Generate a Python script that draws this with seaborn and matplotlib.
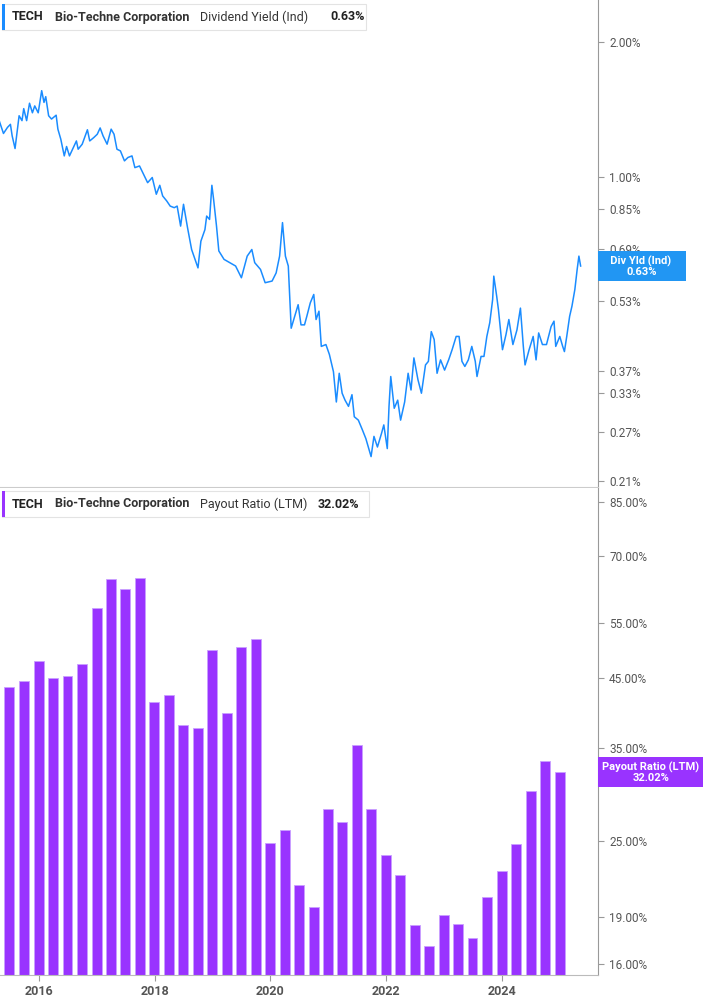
import numpy as np
import pandas as pd
import matplotlib
matplotlib.use("Agg")
import matplotlib.pyplot as plt
import seaborn as sns
from matplotlib.ticker import FixedLocator, NullLocator, NullFormatter

plt.rcParams["font.family"] = "Roboto"

# dividend yield (%), x as decimal year
yield_years = [2015.32, 2015.39, 2015.46, 2015.51, 2015.54, 2015.59, 2015.66, 2015.71, 2015.74, 2015.79,
               2015.84, 2015.89, 2015.93, 2015.99, 2016.05, 2016.09, 2016.12, 2016.17, 2016.22, 2016.30,
               2016.33, 2016.38, 2016.44, 2016.48, 2016.53, 2016.65, 2016.68, 2016.75, 2016.84, 2016.88,
               2016.95, 2017.01, 2017.06, 2017.11, 2017.18, 2017.25, 2017.30, 2017.35, 2017.41, 2017.48,
               2017.54, 2017.61, 2017.66, 2017.74, 2017.81, 2017.88, 2017.96, 2018.03, 2018.09, 2018.14,
               2018.21, 2018.27, 2018.34, 2018.39, 2018.45, 2018.50, 2018.57, 2018.64, 2018.70, 2018.75,
               2018.80, 2018.87, 2018.90, 2018.95, 2018.99, 2019.02, 2019.07, 2019.11, 2019.20, 2019.30,
               2019.40, 2019.50, 2019.60, 2019.68, 2019.73, 2019.83, 2019.91, 2020.03, 2020.10, 2020.16,
               2020.21, 2020.26, 2020.31, 2020.36, 2020.43, 2020.48, 2020.53, 2020.59, 2020.63, 2020.69,
               2020.75, 2020.79, 2020.84, 2020.88, 2020.96, 2021.02, 2021.09, 2021.14, 2021.19, 2021.24,
               2021.29, 2021.35, 2021.41, 2021.45, 2021.52, 2021.59, 2021.65, 2021.70, 2021.74, 2021.79,
               2021.85, 2021.92, 2021.96, 2022.02, 2022.05, 2022.08, 2022.14, 2022.20, 2022.25, 2022.32,
               2022.38, 2022.43, 2022.48, 2022.55, 2022.61, 2022.68, 2022.73, 2022.78, 2022.83, 2022.88,
               2022.94, 2023.01, 2023.08, 2023.14, 2023.21, 2023.26, 2023.31, 2023.36, 2023.42, 2023.48,
               2023.54, 2023.57, 2023.64, 2023.69, 2023.74, 2023.79, 2023.84, 2023.86, 2023.91, 2023.94,
               2024.01, 2024.07, 2024.12, 2024.19, 2024.26, 2024.32, 2024.37, 2024.40, 2024.47, 2024.54,
               2024.59, 2024.635, 2024.70, 2024.77, 2024.85, 2024.90, 2024.93, 2025.00, 2025.05, 2025.08,
               2025.12, 2025.17, 2025.21, 2025.26, 2025.30, 2025.33, 2025.36]
yield_vals = [1.33, 1.25, 1.29, 1.31, 1.235, 1.157, 1.369, 1.335, 1.42, 1.335,
              1.46, 1.39, 1.44, 1.39, 1.557, 1.466, 1.51, 1.369, 1.346, 1.373,
              1.278, 1.214, 1.114, 1.169, 1.114, 1.203, 1.153, 1.183, 1.274, 1.203,
              1.224, 1.245, 1.286, 1.235, 1.183, 1.278, 1.245, 1.153, 1.143, 1.086,
              1.105, 1.114, 1.049, 1.058, 1.014, 0.971, 0.997, 0.915, 0.958, 0.907,
              0.884, 0.861, 0.854, 0.861, 0.777, 0.869, 0.770, 0.689, 0.655, 0.627,
              0.719, 0.763, 0.818, 0.804, 0.958, 0.891, 0.777, 0.684, 0.655, 0.644,
              0.633, 0.596, 0.666, 0.689, 0.644, 0.622, 0.581, 0.586, 0.611, 0.666,
              0.791, 0.666, 0.633, 0.460, 0.494, 0.519, 0.468, 0.468, 0.489, 0.524,
              0.547, 0.481, 0.502, 0.419, 0.423, 0.402, 0.368, 0.315, 0.365, 0.3295,
              0.318, 0.308, 0.327, 0.292, 0.287, 0.273, 0.261, 0.248, 0.238, 0.264,
              0.250, 0.268, 0.280, 0.248, 0.308, 0.359, 0.305, 0.318, 0.287, 0.315,
              0.365, 0.335, 0.395, 0.353, 0.3295, 0.381, 0.388, 0.452, 0.434, 0.365,
              0.391, 0.371, 0.391, 0.412, 0.441, 0.441, 0.388, 0.378, 0.391, 0.419,
              0.388, 0.359, 0.398, 0.398, 0.441, 0.473, 0.533, 0.601, 0.542, 0.506,
              0.412, 0.445, 0.481, 0.423, 0.456, 0.510, 0.419, 0.381, 0.412, 0.441,
              0.391, 0.449, 0.423, 0.423, 0.464, 0.477, 0.419, 0.441, 0.419, 0.408,
              0.441, 0.489, 0.515, 0.561, 0.622, 0.666, 0.633]

# payout ratio (%), quarterly
payout_quarters = pd.period_range("2015Q2", "2024Q4", freq="Q")
payout_vals = [43.6, 44.5, 47.8, 45.1, 45.4, 47.3, 57.9, 64.3, 62.1, 64.7,
               41.3, 42.3, 38.0, 37.6, 49.8, 39.7, 50.3, 51.9, 24.8, 26.0,
               21.3, 19.7, 28.0, 26.7, 35.3, 28.0, 23.7, 22.1, 18.4, 17.1,
               19.1, 18.5, 17.6, 20.4, 22.4, 24.7, 29.9, 33.4, 32.0]

top_ticks = [2.00, 1.00, 0.85, 0.69, 0.53, 0.37, 0.33, 0.27, 0.21]
bot_ticks = [85, 70, 55, 45, 35, 25, 19, 16]
year_ticks = [2016, 2018, 2020, 2022, 2024]

BLUE = "#1a8cff"
PURPLE = "#9933ff"
GRID = "#999999"
TXT = "#555555"

W, H = 717, 1005
fig = plt.figure(figsize=(W / 100, H / 100), dpi=100)
ax1 = fig.add_axes([0, 1 - 487 / H, 598 / W, 487 / H])
ax2 = fig.add_axes([0, 1 - 975 / H, 598 / W, 487 / H])

xlim = (2015.33, 2025.66)

# top panel
df_y = pd.DataFrame({"year": yield_years, "yield": yield_vals})
sns.lineplot(data=df_y, x="year", y="yield", ax=ax1, color=BLUE, linewidth=1.1)
ax1.set_yscale("log")
ax1.set_ylim(0.2036, 2.48)
ax1.set_xlim(*xlim)

# bottom panel
q_years = [p.end_time.year + (p.end_time.dayofyear - 1) / 365.25 for p in payout_quarters]
df_p = pd.DataFrame({"year": q_years, "payout": payout_vals})
ax2.set_yscale("log")
sns.barplot(data=df_p, x="year", y="payout", ax=ax2, native_scale=True,
            width=0.7, color=PURPLE, saturation=1, edgecolor="#c9a0ff", linewidth=0.6)
ax2.set_ylim(15.38, 89.5)
ax2.set_xlim(*xlim)

for ax, ticks in ((ax1, top_ticks), (ax2, bot_ticks)):
    ax.yaxis.tick_right()
    ax.yaxis.set_major_locator(FixedLocator(ticks))
    ax.yaxis.set_minor_locator(NullLocator())
    ax.yaxis.set_minor_formatter(NullFormatter())
    ax.set_yticklabels([f"{t:.2f}%" for t in ticks])
    ax.tick_params(axis="y", colors=GRID, labelcolor=TXT, labelsize=8.5, length=4, pad=4)
    for s in ("top", "left"):
        ax.spines[s].set_visible(False)
    ax.spines["right"].set_color(GRID)
    ax.spines["bottom"].set_color("#bbbbbb")
    ax.set_xlabel("")
    ax.set_ylabel("")
    ax.set_facecolor("white")

ax1.set_xticks([])
ax1.spines["bottom"].set_color("#cccccc")
ax2.set_xticks(year_ticks)
ax2.set_xticklabels([str(y) for y in year_ticks])
ax2.tick_params(axis="x", colors=GRID, labelcolor=TXT, labelsize=9, length=4)
for lab in ax2.get_xticklabels():
    lab.set_fontweight("bold")

# value tags on right axis
def tag(ax, val, text, color):
    ax.annotate(text, xy=(1, val), xycoords=("axes fraction", "data"),
                xytext=(3, 0), textcoords="offset points", ha="left", va="center",
                fontsize=8, color="white", fontweight="bold", linespacing=1.0,
                multialignment="center",
                bbox=dict(boxstyle="square,pad=0.35", fc=color, ec="none"),
                annotation_clip=False)

tag(ax1, yield_vals[-1], "   Div Yld (Ind)    \n0.63%", "#2196f3")
tag(ax2, payout_vals[-1], "Payout Ratio (LTM)\n32.02%", PURPLE)

# header boxes
def header(y, label, value, color, width):
    fig.patches.append(plt.Rectangle((2 / W, 1 - (y + 13) / H), width / W, 26 / H,
                                     transform=fig.transFigure, fc="white", ec="#e3e3e3", lw=0.8))
    fig.patches.append(plt.Rectangle((2 / W, 1 - (y + 13) / H), 3 / W, 26 / H,
                                     transform=fig.transFigure, fc=color, ec="none"))
    fig.text(12 / W, 1 - y / H, "TECH", fontsize=9, fontweight="bold", color="#222222", va="center")
    fig.text(55 / W, 1 - y / H, "Bio-Techne Corporation", fontsize=9, fontweight="bold",
             color="#333333", va="center")
    fig.text(200 / W, 1 - y / H, label, fontsize=9, color="#333333", va="center")
    fig.text((200 + len(label) * 6.1 + 8) / W, 1 - y / H, value, fontsize=9, fontweight="bold",
             color="#222222", va="center")

header(17, "Dividend Yield (Ind)", "0.63%", BLUE, 364)
header(504, "Payout Ratio (LTM)", "32.02%", PURPLE, 367)

fig.savefig("out.png", dpi=100, facecolor="white")
